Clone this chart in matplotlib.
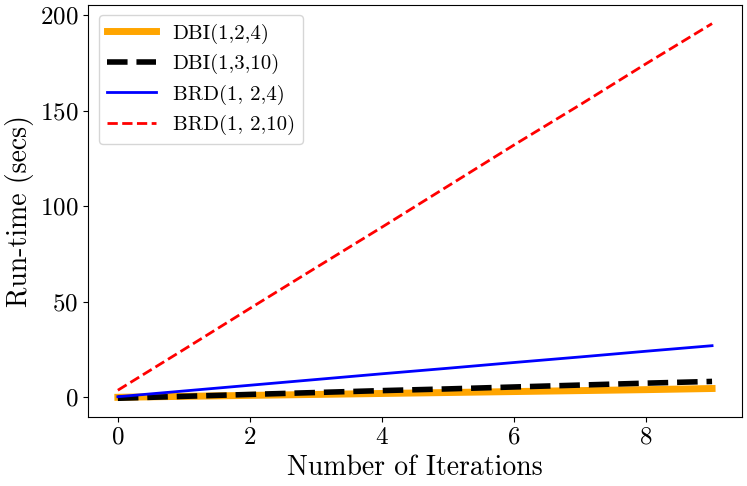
import numpy as np
import matplotlib
matplotlib.use('Agg')
import matplotlib.pyplot as plt

# Computer Modern look (shipped with matplotlib)
plt.rcParams['font.family'] = 'serif'
plt.rcParams['font.serif'] = ['cmr10']
plt.rcParams['mathtext.fontset'] = 'cm'
plt.rcParams['axes.formatter.use_mathtext'] = True

# Data
iterations = [0, 1, 2, 3, 4, 5, 6, 7, 8, 9]
dbi_124 = [0.0, 0.5, 1.0, 1.5, 2.0, 2.5, 3.0, 3.5, 4.0, 4.6]
dbi_1310 = [-0.5, 0.5, 1.5, 2.5, 3.5, 4.4, 5.4, 6.4, 7.4, 8.3]
brd_124 = [0.3, 3.3, 6.3, 9.3, 12.3, 15.2, 18.2, 21.1, 24.1, 27.0]
brd_1210 = [3.7, 25.0, 46.5, 67.8, 89.0, 110.5, 132.0, 153.0, 174.5, 195.5]

fig, ax = plt.subplots(figsize=(7.47, 4.86), dpi=100)
ax.plot(iterations, dbi_124, color='orange', linewidth=5, label='DBI(1,2,4)')
ax.plot(iterations, dbi_1310, color='black', linewidth=4, linestyle='--', label='DBI(1,3,10)')
ax.plot(iterations, brd_124, color='blue', linewidth=2, label='BRD(1, 2,4)')
ax.plot(iterations, brd_1210, color='red', linewidth=2, linestyle='--', label='BRD(1, 2,10)')

ax.set_xlabel('Number of Iterations', fontsize=20)
ax.set_ylabel('Run-time (secs)', fontsize=20)
ax.tick_params(axis='both', labelsize=18)
ax.legend(loc='upper left', fontsize=15, handlelength=2.35)

plt.subplots_adjust(left=0.118, right=0.993, top=0.99, bottom=0.142)
plt.savefig('out.png', dpi=100)
plt.close()
